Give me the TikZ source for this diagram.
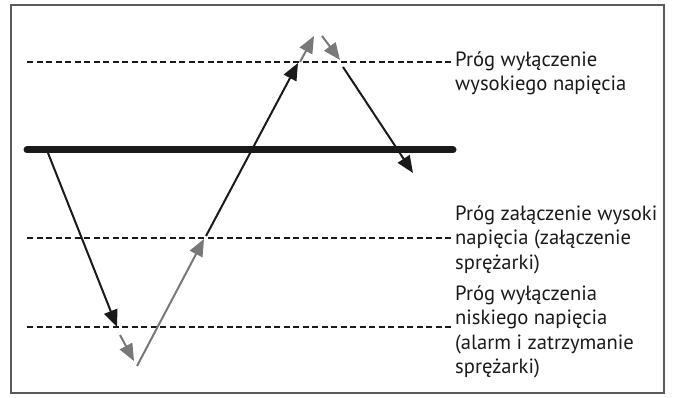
\documentclass[tikz,border=0pt]{standalone}
\usepackage{fontspec}
\setmainfont{PT Sans}
\usetikzlibrary{arrows.meta}
\definecolor{arrgray}{HTML}{77787A}
\definecolor{dark}{HTML}{1A1A1A}
\definecolor{framegray}{HTML}{5A5A5A}
\begin{document}
\begin{tikzpicture}[x=1pt,y=-1pt,
  thresh/.style={draw=dark,line width=2.4pt,dash pattern=on 6pt off 3.5pt},
  blk/.style={draw=dark,line width=2pt,-{Triangle[length=17pt,width=14pt]}},
  gry/.style={draw=arrgray,line width=2pt,-{Triangle[length=17pt,width=14pt]}},
  lbl/.style={anchor=north west,inner sep=0pt,align=left,font=\fontsize{20.6pt}{24.5pt}\selectfont,text=dark}]
\useasboundingbox (0,0) rectangle (675,398);
\draw[draw=framegray,line width=1.5pt] (11,5) rectangle (664,393);
% threshold lines
\coordinate (hiA) at (27,62);  \coordinate (hiB) at (452,62);
\coordinate (onA) at (27,238); \coordinate (onB) at (452,238);
\coordinate (loA) at (27,327); \coordinate (loB) at (452,327);
\coordinate (barA) at (27,150); \coordinate (barB) at (453,150);
\draw[thresh] (hiA) -- (hiB);
\draw[thresh] (onA) -- (onB);
\draw[thresh] (loA) -- (loB);
\draw[dark,line width=7pt,line cap=round] (barA) -- (barB);
% path points
\coordinate (p1) at (48,153);
\coordinate (p2) at (117,327);
\coordinate (p3) at (120,335);
\coordinate (p4) at (134,361);
\coordinate (p5) at (137,366);
\coordinate (p6) at (204,239);
\coordinate (p7) at (206,236);
\coordinate (p8) at (298,63);
\coordinate (p9) at (300,62);
\coordinate (p10) at (314,36);
\coordinate (p11) at (322,36);
\coordinate (p12) at (340,60);
\coordinate (p13) at (343,67);
\coordinate (p14) at (413,173);
\draw[blk] (p1) -- (p2);
\draw[gry] (p3) -- (p4);
\draw[gry] (p5) -- (p6);
\draw[blk] (p7) -- (p8);
\draw[gry] (p9) -- (p10);
\draw[gry] (p11) -- (p12);
\draw[blk] (p13) -- (p14);
% labels
\node[lbl] (lhi) at (455,51) {Próg wyłączenie\\wysokiego napięcia};
\node[lbl] (lon) at (455,205) {Próg załączenie wysoki\\napięcia (załączenie\\sprężarki)};
\node[lbl] (llo) at (455,285) {Próg wyłączenia\\niskiego napięcia\\(alarm i zatrzymanie\\sprężarki)};
\end{tikzpicture}
\end{document}
